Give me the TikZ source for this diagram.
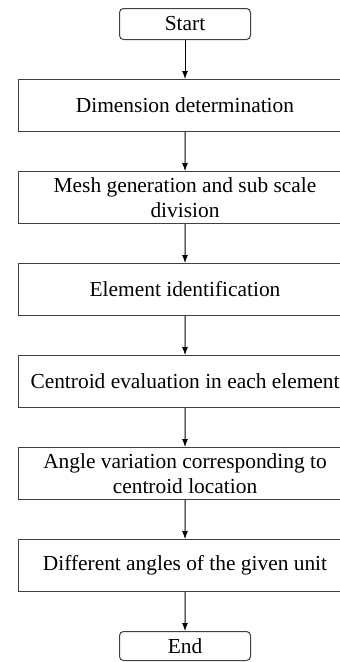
\documentclass[tikz,border=0pt]{standalone}
\usepackage{fontspec}
\setmainfont{Liberation Serif}
\usetikzlibrary{trees,arrows.meta}

\begin{document}
\begin{tikzpicture}[
    x=1pt, y=1pt,
    font=\fontsize{21.4}{25}\selectfont,
    grow=down,
    level distance=39pt,
    growth parent anchor=south,
    parent anchor=south,% = \tikzparentanchor
    child anchor=north,%  = \tikzchildanchor
    every child node/.style={anchor=north},
    edge from parent/.style={draw=black, line width=1pt,
        -{Latex[length=8pt,width=6pt]}},
    stepbox/.style={draw=black!75, line width=1pt, align=center,
        minimum width=334pt, inner xsep=10pt, inner ysep=2pt,
        minimum height=52pt},
    terminal/.style={draw=black!75, line width=1pt, rounded corners=4pt,
        minimum width=131pt, minimum height=31pt, inner sep=0pt}
  ]
  \useasboundingbox (0,0) rectangle (340,-662);
  \clip (0,0) rectangle (340,-662);
  \node [terminal, anchor=north] (start) at (185,-8) {Start}
    child { node [stepbox] (dimension) {Dimension determination}
      child { node [stepbox] (mesh) {Mesh generation and sub scale\\ division}
        child { node [stepbox] (element) {Element identification}
          child { node [stepbox] (centroid) {Centroid evaluation in each element}
            child { node [stepbox] (angle) {Angle variation corresponding to\\ centroid location}
              child { node [stepbox] (angles) {Different angles of the given unit}
                child { node [terminal, minimum height=29pt] (end) {End} }
              }
            }
          }
        }
      }
    };
\end{tikzpicture}
\end{document}
